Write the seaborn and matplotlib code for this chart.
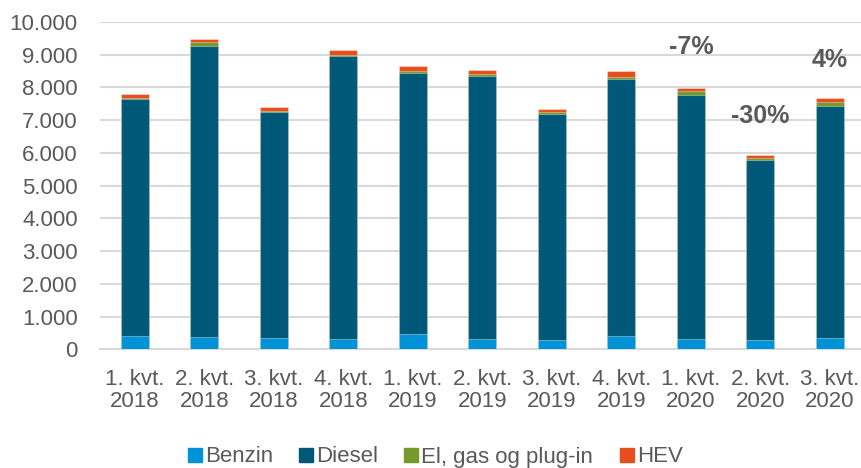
import pandas as pd
import matplotlib.pyplot as plt
import seaborn as sns
from matplotlib.lines import Line2D
from matplotlib.ticker import FuncFormatter, MultipleLocator

quarters = ["1. kvt.\n2018", "2. kvt.\n2018", "3. kvt.\n2018", "4. kvt.\n2018",
            "1. kvt.\n2019", "2. kvt.\n2019", "3. kvt.\n2019", "4. kvt.\n2019",
            "1. kvt.\n2020", "2. kvt.\n2020", "3. kvt.\n2020"]
benzin = [415, 366, 335, 320, 457, 300, 270, 405, 314, 270, 340]
diesel = [7215, 8894, 6905, 8630, 7993, 8040, 6910, 7845, 7456, 5510, 7080]
el_gas = [35, 120, 52, 52, 61, 73, 61, 81, 132, 61, 132]
hev = [125, 90, 95, 125, 135, 105, 110, 155, 90, 85, 115]

series_names = ["Benzin", "Diesel", "El, gas og plug-in", "HEV"]
series_colors = ["#0092D6", "#005878", "#76992C", "#E84E1B"]

# percent change labels (vs same quarter previous year)
change_labels = ["-7%", "-30%", "4%"]
change_idx = [8, 9, 10]
change_y = [9230, 7130, 8850]

text_color = "#595959"

df = pd.DataFrame({"quarter": quarters, "Benzin": benzin, "Diesel": diesel,
                   "El, gas og plug-in": el_gas, "HEV": hev})
cum = df[series_names].cumsum(axis=1)

sns.set_theme(style="white")
plt.rcParams["font.family"] = ["Liberation Sans", "DejaVu Sans"]

fig = plt.figure(figsize=(8.62, 4.68), dpi=100)
ax = fig.add_axes([0.116, 0.2536, 0.887, 0.6996])

# draw cumulative layers, tallest first so each stack shows through
for name, color in reversed(list(zip(series_names, series_colors))):
    sns.barplot(x=df["quarter"], y=cum[name], color=color, saturation=1,
                width=0.4, edgecolor=(1, 1, 1, 0.35), linewidth=0.8,
                ax=ax, zorder=3)

for idx, lab, yv in zip(change_idx, change_labels, change_y):
    ax.text(idx, yv, lab, ha="center", va="center", fontsize=18,
            fontweight="bold", color=text_color)

ax.set_ylim(0, 10000)
ax.set_xlim(-0.5, 10.5)
ax.yaxis.set_major_locator(MultipleLocator(1000))
ax.yaxis.set_major_formatter(FuncFormatter(lambda v, p: f"{int(v):,}".replace(",", ".")))
ax.grid(axis="y", color="#D9D9D9", linewidth=1.5, zorder=0)
ax.set_axisbelow(True)
ax.set_xlabel("")
ax.set_ylabel("")
for s in ["top", "right", "left"]:
    ax.spines[s].set_visible(False)
ax.spines["bottom"].set_color("#D9D9D9")
ax.spines["bottom"].set_linewidth(1.5)
ax.tick_params(axis="x", length=0, pad=14, labelsize=16, labelcolor=text_color)
ax.tick_params(axis="y", length=0, pad=16, labelsize=16, labelcolor=text_color)
for t in ax.get_xticklabels():
    t.set_linespacing(1.05)

handles = [Line2D([0], [0], marker="s", linestyle="none", markersize=10,
                  markerfacecolor=c, markeredgecolor=c) for c in series_colors]
fig.legend(handles, series_names, loc="center", bbox_to_anchor=(0.505, 11 / 468),
           ncol=4, frameon=False, fontsize=16, labelcolor=text_color,
           handlelength=0.6, handletextpad=0.15, columnspacing=1.2)

fig.savefig("out.png", dpi=100)
